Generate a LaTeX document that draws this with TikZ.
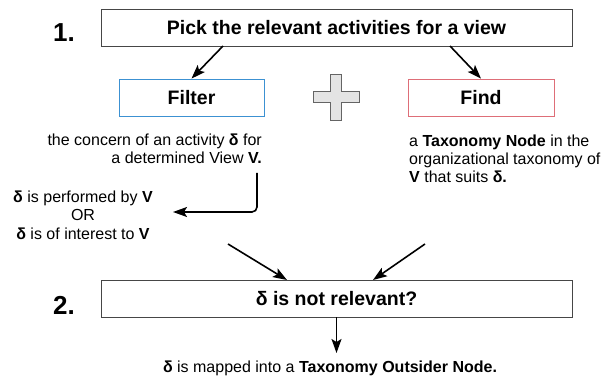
\documentclass[tikz,border=0pt]{standalone}
\usepackage{fontspec}
\setmainfont{Liberation Sans}
\usetikzlibrary{arrows.meta}
\definecolor{fblue}{RGB}{60,145,210}
\definecolor{fred}{RGB}{222,110,120}
\definecolor{plusfill}{RGB}{228,228,228}
\definecolor{plusdraw}{RGB}{100,100,100}
\definecolor{boxline}{RGB}{70,70,70}
\newcommand\hdfont{\fontsize{19.5}{22}\selectfont\bfseries}
\newcommand\txfont{\fontsize{16}{18}\selectfont}
\newcommand\numfont{\fontsize{26}{28}\selectfont\bfseries}
\begin{document}
\begin{tikzpicture}[x=1pt,y=-1pt,
  box/.style={draw=boxline, line width=0.8pt, minimum height=37pt, inner sep=0pt},
  arr/.style={-{Stealth[length=14pt,width=10pt,inset=3pt]}, line width=1.6pt},
  txt/.style={inner sep=0pt, font=\txfont},
  num/.style={inner sep=0pt, font=\numfont}
]
\useasboundingbox (0,0) rectangle (602,382);
% step 1
\node[box, minimum width=471pt, font=\hdfont] (b1) at (336.5,27.5) {Pick the relevant activities for a view};
\node[num] (n1) at (64,33) {1.};
\node[box, draw=fblue, minimum width=145pt, font=\hdfont] (filt) at (191.5,97.5) {Filter};
\node[box, draw=fred, minimum width=146pt, font=\hdfont] (find) at (481,97.5) {Find};
\coordinate (s1) at (223,46);
\coordinate (s2) at (450,46);
\draw[arr] (s1) -- (filt.north);
\draw[arr] (s2) -- (find.north);
% plus sign
\begin{scope}[shift={(336,97.5)}]
\draw[fill=plusfill, draw=plusdraw, line width=1pt]
  (-5.5,-23) -- (5.5,-23) -- (5.5,-5.5) -- (23,-5.5) -- (23,5.5) -- (5.5,5.5) -- (5.5,23)
  -- (-5.5,23) -- (-5.5,5.5) -- (-23,5.5) -- (-23,-5.5) -- (-5.5,-5.5) -- cycle;
\end{scope}
% filter text
\node[txt, anchor=base east] (l1) at (262,146) {the concern of an activity \textbf{δ} for};
\node[txt, anchor=base east] (l2) at (262,164) {a determined View \textbf{V.}};
% find text
\node[txt, anchor=base west] (r1) at (409,147) {a \textbf{Taxonomy Node} in the};
\node[txt, anchor=base west] (r2) at (409,165) {organizational taxonomy of};
\node[txt, anchor=base west] (r3) at (409,183) {\textbf{V} that suits \textbf{δ.}};
% condition text
\node[txt, anchor=base] (o1) at (83,203) {\textbf{δ} is performed by \textbf{V}};
\node[txt, anchor=base] (o2) at (83,221) {OR};
\node[txt, anchor=base] (o3) at (83,239) {\textbf{δ} is of interest to \textbf{V}};
\coordinate (e1) at (257,173);
\coordinate (e2) at (173,212);
\draw[arr, rounded corners=5pt] (e1) |- (e2);
% step 2
\node[box, minimum width=471pt, font=\hdfont] (b2) at (336.5,298.5) {δ is not relevant?};
\node[num] (n2) at (64,305) {2.};
\coordinate (a1) at (228,244);
\coordinate (t1) at (287,280);
\coordinate (a2) at (425,244);
\coordinate (t2) at (373,280);
\draw[arr] (a1) -- (t1);
\draw[arr] (a2) -- (t2);
\node[txt, anchor=base] (res) at (330,372) {\textbf{δ} is mapped into a \textbf{Taxonomy Outsider Node.}};
\coordinate (t3) at (336.5,353);
\draw[arr] (b2.south) -- (t3);
\end{tikzpicture}
\end{document}
